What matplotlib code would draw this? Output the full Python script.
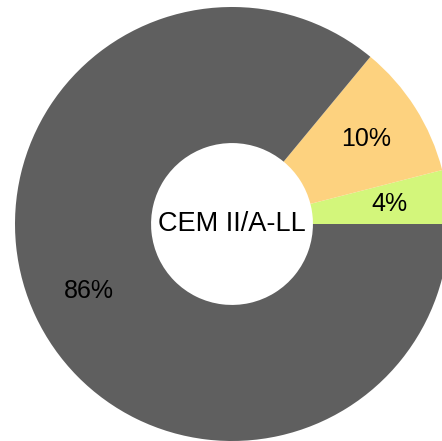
import matplotlib.pyplot as plt

# donut chart data, counterclockwise from 3 o'clock
shares = [4, 10, 86]
colors = ['#d3f67b', '#fdd27f', '#5f5f5f']
center_label = 'CEM II/A-LL'

plt.rcParams['font.family'] = ['Liberation Sans', 'DejaVu Sans']

fig = plt.figure(figsize=(4.42, 4.41), dpi=100)
ax = fig.add_axes([0, 0, 1, 1])

wedges, texts, autotexts = ax.pie(
    shares, colors=colors, startangle=0, counterclock=True,
    radius=1.0, autopct='%.0f%%', pctdistance=0.73,
    wedgeprops=dict(width=0.627, linewidth=0),
    textprops=dict(fontsize=18, color='black'))

ax.text(0, 0, center_label, ha='center', va='center', fontsize=19.5, color='black')

# center of donut at about (232, 224) px, radius 217 px
ax.set_xlim(-232 / 217, (442 - 232) / 217)
ax.set_ylim(-(441 - 224) / 217, 224 / 217)
ax.set_aspect('auto')
ax.axis('off')

fig.savefig('out.png', dpi=100)
